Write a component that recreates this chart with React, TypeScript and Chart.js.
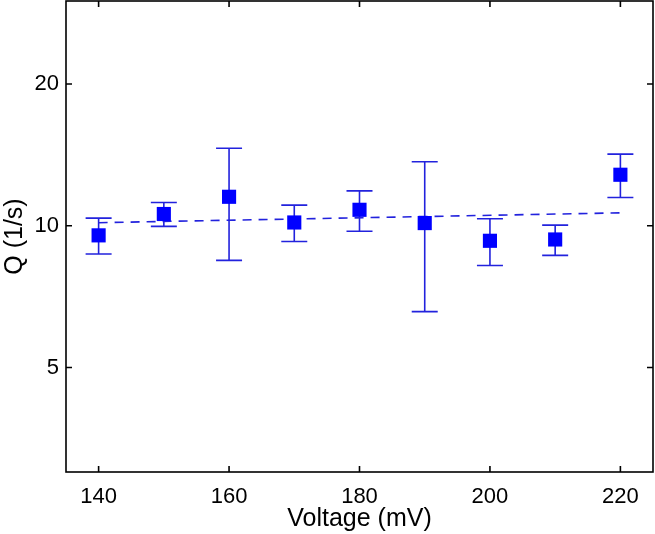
import React, { useEffect, useRef } from "react";
import { Chart, registerables } from "chart.js";

Chart.register(...registerables);

const voltages = [140, 150, 160, 170, 180, 190, 200, 210, 220];
const qValues = [9.54, 10.59, 11.52, 10.16, 10.81, 10.13, 9.29, 9.35, 12.83];
const qHigh = [10.38, 11.2, 14.6, 11.06, 11.86, 13.67, 10.35, 10.03, 14.19];
const qLow = [8.71, 9.97, 8.44, 9.26, 9.73, 6.57, 8.23, 8.65, 11.48];
const fitX = [140, 220];
const fitY = [10.15, 10.65];
const xTicks = [140, 160, 180, 200, 220];
const yTicks = [5, 10, 20];

const BLUE = "#0000ff";
const ERR = "#2222dd";

const framePlugin = {
  id: "frameAndErrors",
  beforeDatasetsDraw(chart: any) {
    const { ctx, scales } = chart;
    const xs = scales.x;
    const ys = scales.y;
    ctx.save();
    ctx.strokeStyle = ERR;
    ctx.lineWidth = 1.6;
    const cap = 13;
    voltages.forEach((v, i) => {
      const px = xs.getPixelForValue(v);
      const ph = ys.getPixelForValue(qHigh[i]);
      const pl = ys.getPixelForValue(qLow[i]);
      ctx.beginPath();
      ctx.moveTo(px, ph);
      ctx.lineTo(px, pl);
      ctx.moveTo(px - cap, ph);
      ctx.lineTo(px + cap, ph);
      ctx.moveTo(px - cap, pl);
      ctx.lineTo(px + cap, pl);
      ctx.stroke();
    });
    ctx.restore();
  },
  afterDraw(chart: any) {
    const { ctx, chartArea: a, scales } = chart;
    const xs = scales.x;
    const ys = scales.y;
    ctx.save();
    ctx.strokeStyle = "#000";
    ctx.lineWidth = 1.6;
    ctx.strokeRect(a.left, a.top, a.right - a.left, a.bottom - a.top);
    const tl = 6;
    ctx.beginPath();
    xTicks.forEach((t) => {
      const px = xs.getPixelForValue(t);
      ctx.moveTo(px, a.bottom);
      ctx.lineTo(px, a.bottom - tl);
      ctx.moveTo(px, a.top);
      ctx.lineTo(px, a.top + tl);
    });
    yTicks.forEach((t) => {
      const py = ys.getPixelForValue(t);
      ctx.moveTo(a.left, py);
      ctx.lineTo(a.left + tl, py);
      ctx.moveTo(a.right, py);
      ctx.lineTo(a.right - tl, py);
    });
    ctx.stroke();
    ctx.restore();
  },
};

export default function App() {
  const ref = useRef<HTMLCanvasElement>(null);
  useEffect(() => {
    if (!ref.current) return;
    const family = "'Liberation Sans', Arial, Helvetica, sans-serif";
    const tickFont = { family, size: 22 };
    const titleFont = { family, size: 25 };
    const chart = new Chart(ref.current, {
      type: "scatter",
      data: {
        datasets: [
          {
            data: fitX.map((x, i) => ({ x, y: fitY[i] })),
            showLine: true,
            borderColor: ERR,
            borderWidth: 1.6,
            borderDash: [9, 7],
            pointRadius: 0,
            order: 2,
          },
          {
            data: voltages.map((x, i) => ({ x, y: qValues[i] })),
            pointStyle: "rect",
            pointRadius: 10,
            backgroundColor: BLUE,
            borderColor: BLUE,
            borderWidth: 0,
            order: 1,
          },
        ],
      },
      options: {
        animation: false,
        responsive: false,
        layout: { autoPadding: false, padding: { top: 1, right: 2, left: 0, bottom: 0 } },
        plugins: { legend: { display: false }, tooltip: { enabled: false } },
        scales: {
          x: {
            type: "linear",
            min: 135,
            max: 225,
            grid: { display: false, drawTicks: false },
            border: { display: false },
            afterBuildTicks: (s: any) => {
              s.ticks = xTicks.map((v) => ({ value: v }));
            },
            afterFit: (s: any) => {
              s.height = 62;
              s.paddingLeft = 0;
              s.paddingRight = 0;
            },
            ticks: { color: "#000", font: tickFont, padding: 12, maxRotation: 0 },
            title: {
              display: true,
              text: "Voltage (mV)",
              color: "#000",
              font: titleFont,
              padding: { top: 0, bottom: 0 },
            },
          },
          y: {
            type: "logarithmic",
            min: 3,
            max: 30,
            grid: { display: false, drawTicks: false },
            border: { display: false },
            afterBuildTicks: (s: any) => {
              s.ticks = yTicks.map((v) => ({ value: v }));
            },
            afterFit: (s: any) => {
              s.width = 66;
              s.paddingTop = 0;
              s.paddingBottom = 0;
            },
            ticks: {
              color: "#000",
              font: tickFont,
              padding: 7,
              callback: (v: any) => String(v),
            },
            title: {
              display: true,
              text: "Q (1/s)",
              color: "#000",
              font: titleFont,
              padding: { top: 0, bottom: 0 },
            },
          },
        },
      },
      plugins: [framePlugin],
    } as any);
    return () => chart.destroy();
  }, []);
  return (
    <div style={{ position: "absolute", left: 0, top: 0, width: 655, height: 534, background: "#fff" }}>
      <canvas ref={ref} width={655} height={534} />
    </div>
  );
}
